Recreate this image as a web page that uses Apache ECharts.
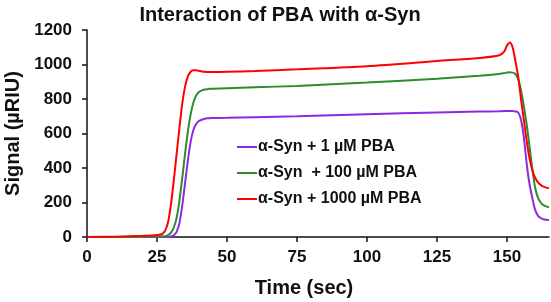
<!DOCTYPE html>
<html>
<head>
<meta charset="utf-8">
<script src="https://cdn.jsdelivr.net/npm/echarts@6/dist/echarts.min.js"></script>
<style>
  html, body { margin: 0; padding: 0; background: #fff; }
  #chart { width: 551px; height: 302px; }
</style>
</head>
<body>
<div id="chart"></div>
<script>
  // time (sec)
  var times = [0, 10, 20, 25, 27, 28, 29, 30, 31, 32, 33, 34, 35, 36, 37, 38, 39, 40, 41, 42, 43, 44, 45, 50, 60, 75, 100, 125, 140, 147, 149, 150, 151, 152, 153, 154, 155, 156, 157, 158, 159, 160, 161, 162, 163, 165]

  // signal (µRIU)
  var syn1 = [0, 0, 0, 0, 0, 0, 0, 3, 10, 30, 80, 180, 310, 440, 550, 620, 655, 672, 680, 685, 688, 689, 690, 691, 694, 700, 712, 722, 727, 729, 730, 730, 730, 730, 728, 722, 680, 580, 430, 310, 230, 160, 125, 110, 103, 98]
  var syn100 = [0, 0, 2, 4, 5, 5, 12, 25, 55, 110, 210, 340, 480, 610, 710, 780, 820, 840, 850, 855, 857, 859, 860, 863, 868, 876, 895, 918, 935, 945, 950, 953, 955, 953, 945, 915, 850, 760, 655, 530, 400, 290, 230, 200, 185, 172]
  var syn1000 = [0, 2, 7, 12, 20, 40, 90, 190, 330, 480, 630, 770, 870, 930, 958, 966, 966, 963, 960, 958, 957, 957, 957, 958, 962, 972, 990, 1020, 1038, 1052, 1075, 1110, 1128, 1100, 1020, 930, 800, 680, 560, 460, 390, 345, 318, 302, 292, 282]

  var xTicks = [0, 25, 50, 75, 100, 125, 150]
  var seriesNames = ['α-Syn + 1 µM PBA', 'α-Syn  + 100 µM PBA', 'α-Syn + 1000 µM PBA']
  var colors = ['#8a2be2', '#2e8b2e', '#ff0000']

  function pairs(vals) {
    return times.map(function (t, i) { return [t, vals[i]] })
  }

  var chart = echarts.init(document.getElementById('chart'))
  var font = 'Liberation Sans, Arial, sans-serif'
  var labelFont = {color: '#111', fontWeight: 'bold', fontSize: 17, fontFamily: font}

  chart.setOption({
    animation: false,
    color: colors,
    title: {
      text: 'Interaction of PBA with α-Syn',
      left: 275,
      top: 0,
      textAlign: 'center',
      textStyle: {color: '#111', fontWeight: 'bold', fontSize: 20, fontFamily: font}
    },
    legend: {
      orient: 'vertical',
      left: 232,
      top: 134,
      itemGap: 10,
      itemWidth: 20,
      itemHeight: 2,
      icon: 'rect',
      textStyle: {color: '#111', fontWeight: 'bold', fontSize: 16, fontFamily: font, padding: [0, 0, 0, -4]},
      data: seriesNames
    },
    grid: {left: 87, right: 2, top: 30, bottom: 65, outerBoundsMode: 'none'},
    xAxis: {
      type: 'value',
      min: 0,
      max: 165,
      interval: 25,
      name: 'Time (sec)',
      nameLocation: 'middle',
      nameGap: 41,
      nameTextStyle: {color: '#111', fontWeight: 'bold', fontSize: 20, fontFamily: font, padding: [0, 28, 0, 0]},
      axisLine: {lineStyle: {color: '#111', width: 1.5}},
      axisTick: {show: true, length: 5, lineStyle: {color: '#111', width: 1.5}, customValues: xTicks},
      axisLabel: Object.assign({margin: 12, customValues: xTicks}, labelFont),
      splitLine: {show: false}
    },
    yAxis: {
      type: 'value',
      min: 0,
      max: 1200,
      interval: 200,
      name: 'Signal (µRIU)',
      nameLocation: 'middle',
      nameGap: 63,
      nameTextStyle: {color: '#111', fontWeight: 'bold', fontSize: 20, fontFamily: font},
      axisLine: {show: true, lineStyle: {color: '#111', width: 1.5}},
      axisTick: {show: true, length: 5, lineStyle: {color: '#111', width: 1.5}},
      axisLabel: Object.assign({margin: 15, formatter: function (v) { return String(v) }}, labelFont),
      splitLine: {show: false}
    },
    series: [syn1, syn100, syn1000].map(function (vals, i) {
      return {
        type: 'line',
        name: seriesNames[i],
        data: pairs(vals),
        showSymbol: false,
        smooth: 0.3,
        lineStyle: {width: 2, color: colors[i]},
        itemStyle: {color: colors[i]}
      }
    })
  })
</script>
</body>
</html>
